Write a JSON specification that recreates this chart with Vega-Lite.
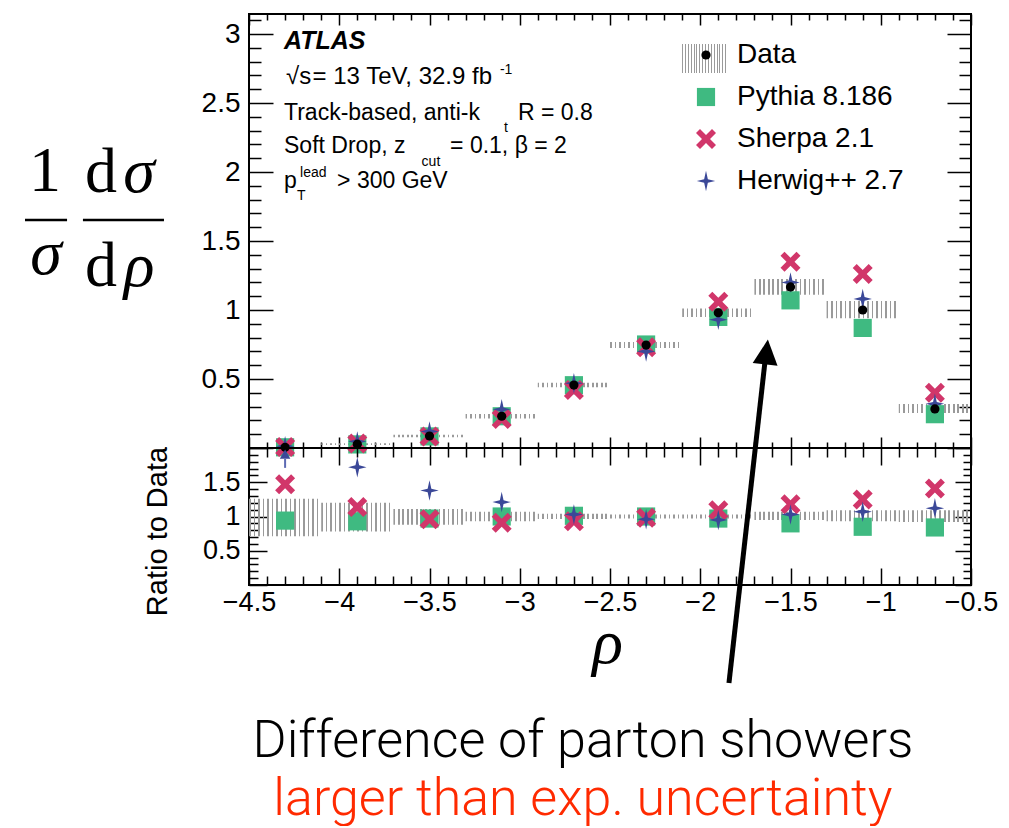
{
  "$schema": "https://vega.github.io/schema/vega-lite/v6.json",
  "padding": {"left": 22, "top": 5, "right": 5, "bottom": 0},
  "background": "white",
  "spacing": 0,
  "bounds": "flush",
  "config": {
    "view": {"stroke": "black", "strokeWidth": 2},
    "axis": {"domain": false, "grid": false, "tickColor": "black", "tickWidth": 1.5, "labelFont": "Liberation Sans", "labelColor": "black", "titleColor": "black", "labelFontSize": 27, "labelOverlap": false, "labelBound": false, "labelFlush": false},
    "text": {"font": "Liberation Sans", "color": "black"},
    "rect": {"fill": {"gradient": "linear", "x1": 0, "y1": 0, "x2": 1, "y2": 0, "stops": [
      {"offset": 0, "color": "#9a9a9a"}, {"offset": 0.022, "color": "#9a9a9a"}, {"offset": 0.022, "color": "rgba(255,255,255,0)"}, {"offset": 0.0625, "color": "rgba(255,255,255,0)"},
      {"offset": 0.0625, "color": "#9a9a9a"}, {"offset": 0.0845, "color": "#9a9a9a"}, {"offset": 0.0845, "color": "rgba(255,255,255,0)"}, {"offset": 0.125, "color": "rgba(255,255,255,0)"},
      {"offset": 0.125, "color": "#9a9a9a"}, {"offset": 0.147, "color": "#9a9a9a"}, {"offset": 0.147, "color": "rgba(255,255,255,0)"}, {"offset": 0.1875, "color": "rgba(255,255,255,0)"},
      {"offset": 0.1875, "color": "#9a9a9a"}, {"offset": 0.2095, "color": "#9a9a9a"}, {"offset": 0.2095, "color": "rgba(255,255,255,0)"}, {"offset": 0.25, "color": "rgba(255,255,255,0)"},
      {"offset": 0.25, "color": "#9a9a9a"}, {"offset": 0.272, "color": "#9a9a9a"}, {"offset": 0.272, "color": "rgba(255,255,255,0)"}, {"offset": 0.3125, "color": "rgba(255,255,255,0)"},
      {"offset": 0.3125, "color": "#9a9a9a"}, {"offset": 0.3345, "color": "#9a9a9a"}, {"offset": 0.3345, "color": "rgba(255,255,255,0)"}, {"offset": 0.375, "color": "rgba(255,255,255,0)"},
      {"offset": 0.375, "color": "#9a9a9a"}, {"offset": 0.397, "color": "#9a9a9a"}, {"offset": 0.397, "color": "rgba(255,255,255,0)"}, {"offset": 0.4375, "color": "rgba(255,255,255,0)"},
      {"offset": 0.4375, "color": "#9a9a9a"}, {"offset": 0.4595, "color": "#9a9a9a"}, {"offset": 0.4595, "color": "rgba(255,255,255,0)"}, {"offset": 0.5, "color": "rgba(255,255,255,0)"},
      {"offset": 0.5, "color": "#9a9a9a"}, {"offset": 0.522, "color": "#9a9a9a"}, {"offset": 0.522, "color": "rgba(255,255,255,0)"}, {"offset": 0.5625, "color": "rgba(255,255,255,0)"},
      {"offset": 0.5625, "color": "#9a9a9a"}, {"offset": 0.5845, "color": "#9a9a9a"}, {"offset": 0.5845, "color": "rgba(255,255,255,0)"}, {"offset": 0.625, "color": "rgba(255,255,255,0)"},
      {"offset": 0.625, "color": "#9a9a9a"}, {"offset": 0.647, "color": "#9a9a9a"}, {"offset": 0.647, "color": "rgba(255,255,255,0)"}, {"offset": 0.6875, "color": "rgba(255,255,255,0)"},
      {"offset": 0.6875, "color": "#9a9a9a"}, {"offset": 0.7095, "color": "#9a9a9a"}, {"offset": 0.7095, "color": "rgba(255,255,255,0)"}, {"offset": 0.75, "color": "rgba(255,255,255,0)"},
      {"offset": 0.75, "color": "#9a9a9a"}, {"offset": 0.772, "color": "#9a9a9a"}, {"offset": 0.772, "color": "rgba(255,255,255,0)"}, {"offset": 0.8125, "color": "rgba(255,255,255,0)"},
      {"offset": 0.8125, "color": "#9a9a9a"}, {"offset": 0.8345, "color": "#9a9a9a"}, {"offset": 0.8345, "color": "rgba(255,255,255,0)"}, {"offset": 0.875, "color": "rgba(255,255,255,0)"},
      {"offset": 0.875, "color": "#9a9a9a"}, {"offset": 0.897, "color": "#9a9a9a"}, {"offset": 0.897, "color": "rgba(255,255,255,0)"}, {"offset": 0.9375, "color": "rgba(255,255,255,0)"},
      {"offset": 0.9375, "color": "#9a9a9a"}, {"offset": 0.9595, "color": "#9a9a9a"}, {"offset": 0.9595, "color": "rgba(255,255,255,0)"}, {"offset": 1, "color": "rgba(255,255,255,0)"}
    ]}}
  },
  "datasets": {
    "pts": [
      {"rho": -4.3, "model": "Pythia 8.186", "xs": 0.005, "ratio": 0.94},
      {"rho": -3.9, "model": "Pythia 8.186", "xs": 0.026, "ratio": 0.93},
      {"rho": -3.5, "model": "Pythia 8.186", "xs": 0.084, "ratio": 0.97},
      {"rho": -3.1, "model": "Pythia 8.186", "xs": 0.23, "ratio": 1.0},
      {"rho": -2.7, "model": "Pythia 8.186", "xs": 0.455, "ratio": 1.01},
      {"rho": -2.3, "model": "Pythia 8.186", "xs": 0.75, "ratio": 1.0},
      {"rho": -1.9, "model": "Pythia 8.186", "xs": 0.95, "ratio": 0.97},
      {"rho": -1.5, "model": "Pythia 8.186", "xs": 1.07, "ratio": 0.9},
      {"rho": -1.1, "model": "Pythia 8.186", "xs": 0.87, "ratio": 0.85},
      {"rho": -0.7, "model": "Pythia 8.186", "xs": 0.245, "ratio": 0.84},
      {"rho": -4.3, "model": "Sherpa 2.1", "xs": 0.008, "ratio": 1.47},
      {"rho": -3.9, "model": "Sherpa 2.1", "xs": 0.032, "ratio": 1.14},
      {"rho": -3.5, "model": "Sherpa 2.1", "xs": 0.084, "ratio": 0.96},
      {"rho": -3.1, "model": "Sherpa 2.1", "xs": 0.21, "ratio": 0.91},
      {"rho": -2.7, "model": "Sherpa 2.1", "xs": 0.42, "ratio": 0.93},
      {"rho": -2.3, "model": "Sherpa 2.1", "xs": 0.73, "ratio": 0.98},
      {"rho": -1.9, "model": "Sherpa 2.1", "xs": 1.06, "ratio": 1.09},
      {"rho": -1.5, "model": "Sherpa 2.1", "xs": 1.35, "ratio": 1.18},
      {"rho": -1.1, "model": "Sherpa 2.1", "xs": 1.26, "ratio": 1.25},
      {"rho": -0.7, "model": "Sherpa 2.1", "xs": 0.4, "ratio": 1.41},
      {"rho": -4.3, "model": "Herwig++ 2.7", "xs": 0.013, "ratio": 2.6},
      {"rho": -3.9, "model": "Herwig++ 2.7", "xs": 0.048, "ratio": 1.72},
      {"rho": -3.5, "model": "Herwig++ 2.7", "xs": 0.12, "ratio": 1.38},
      {"rho": -3.1, "model": "Herwig++ 2.7", "xs": 0.28, "ratio": 1.21},
      {"rho": -2.7, "model": "Herwig++ 2.7", "xs": 0.47, "ratio": 1.03},
      {"rho": -2.3, "model": "Herwig++ 2.7", "xs": 0.7, "ratio": 0.96},
      {"rho": -1.9, "model": "Herwig++ 2.7", "xs": 0.93, "ratio": 0.95},
      {"rho": -1.5, "model": "Herwig++ 2.7", "xs": 1.2, "ratio": 1.03},
      {"rho": -1.1, "model": "Herwig++ 2.7", "xs": 1.08, "ratio": 1.07},
      {"rho": -0.7, "model": "Herwig++ 2.7", "xs": 0.32, "ratio": 1.12},
      {"rho": -4.3, "model": "Data", "xs": 0.005},
      {"rho": -3.9, "model": "Data", "xs": 0.028},
      {"rho": -3.5, "model": "Data", "xs": 0.087},
      {"rho": -3.1, "model": "Data", "xs": 0.23},
      {"rho": -2.7, "model": "Data", "xs": 0.456},
      {"rho": -2.3, "model": "Data", "xs": 0.746},
      {"rho": -1.9, "model": "Data", "xs": 0.98},
      {"rho": -1.5, "model": "Data", "xs": 1.167},
      {"rho": -1.1, "model": "Data", "xs": 1.0},
      {"rho": -0.7, "model": "Data", "xs": 0.283}
    ],
    "bins": [
      {"x0": -4.5, "x1": -4.1, "lo": 0.004, "hi": 0.007, "rlo": 0.71, "rhi": 1.26},
      {"x0": -4.1, "x1": -3.7, "lo": 0.022, "hi": 0.034, "rlo": 0.78, "rhi": 1.2},
      {"x0": -3.7, "x1": -3.3, "lo": 0.077, "hi": 0.096, "rlo": 0.88, "rhi": 1.11},
      {"x0": -3.3, "x1": -2.9, "lo": 0.214, "hi": 0.246, "rlo": 0.93, "rhi": 1.07},
      {"x0": -2.9, "x1": -2.5, "lo": 0.44, "hi": 0.472, "rlo": 0.965, "rhi": 1.04},
      {"x0": -2.5, "x1": -2.1, "lo": 0.724, "hi": 0.768, "rlo": 0.97, "rhi": 1.03},
      {"x0": -2.1, "x1": -1.7, "lo": 0.95, "hi": 1.01, "rlo": 0.97, "rhi": 1.03},
      {"x0": -1.7, "x1": -1.3, "lo": 1.11, "hi": 1.225, "rlo": 0.95, "rhi": 1.07},
      {"x0": -1.3, "x1": -0.9, "lo": 0.94, "hi": 1.065, "rlo": 0.93, "rhi": 1.09},
      {"x0": -0.9, "x1": -0.5, "lo": 0.254, "hi": 0.319, "rlo": 0.92, "rhi": 1.09}
    ]
  },
  "resolve": {"scale": {"color": "independent", "shape": "independent", "size": "independent"}, "legend": {"color": "independent", "shape": "independent", "size": "independent"}},
  "vconcat": [
    {
      "width": 722,
      "height": 434,
      "resolve": {"axis": {"x": "independent", "y": "independent"}},
      "layer": [
        {
          "data": {"name": "bins"},
          "mark": {"type": "rect"},
          "encoding": {
            "x": {"field": "x0", "type": "quantitative", "scale": {"domain": [-4.5, -0.5], "nice": false, "zero": false},
              "axis": {"orient": "top", "labels": false, "title": null, "values": [-4.5,-4.4,-4.3,-4.2,-4.1,-4,-3.9,-3.8,-3.7,-3.6,-3.5,-3.4,-3.3,-3.2,-3.1,-3,-2.9,-2.8,-2.7,-2.6,-2.5,-2.4,-2.3,-2.2,-2.1,-2,-1.9,-1.8,-1.7,-1.6,-1.5,-1.4,-1.3,-1.2,-1.1,-1,-0.9,-0.8,-0.7,-0.6,-0.5],
                "tickSize": {"condition": {"test": "abs(datum.value*2-round(datum.value*2))<0.01", "value": -11}, "value": -6}}},
            "x2": {"field": "x1"},
            "y": {"field": "lo", "type": "quantitative", "scale": {"domain": [0, 3.145], "nice": false, "zero": false},
              "axis": {"orient": "right", "labels": false, "title": null, "values": [0,0.1,0.2,0.3,0.4,0.5,0.6,0.7,0.8,0.9,1,1.1,1.2,1.3,1.4,1.5,1.6,1.7,1.8,1.9,2,2.1,2.2,2.3,2.4,2.5,2.6,2.7,2.8,2.9,3,3.1],
                "tickSize": {"condition": {"test": "abs(datum.value*2-round(datum.value*2))<0.01", "value": -24}, "value": -12}}},
            "y2": {"field": "hi"}
          }
        },
        {
          "data": {"values": [{}]},
          "mark": {"type": "rect"},
          "encoding": {
            "x": {"datum": -2.101, "axis": null},
            "x2": {"datum": -1.846},
            "y": {"datum": 2.717, "axis": null},
            "y2": {"datum": 2.928}
          }
        },
        {
          "data": {"name": "pts"},
          "mark": {"type": "point", "filled": true, "opacity": 1, "strokeWidth": 0},
          "encoding": {
            "x": {"field": "rho", "type": "quantitative",
              "axis": {"orient": "bottom", "labels": false, "title": null, "values": [-4.5,-4.4,-4.3,-4.2,-4.1,-4,-3.9,-3.8,-3.7,-3.6,-3.5,-3.4,-3.3,-3.2,-3.1,-3,-2.9,-2.8,-2.7,-2.6,-2.5,-2.4,-2.3,-2.2,-2.1,-2,-1.9,-1.8,-1.7,-1.6,-1.5,-1.4,-1.3,-1.2,-1.1,-1,-0.9,-0.8,-0.7,-0.6,-0.5],
                "tickSize": {"condition": {"test": "abs(datum.value*2-round(datum.value*2))<0.01", "value": -11}, "value": -6}}},
            "y": {"field": "xs", "type": "quantitative",
              "axis": {"orient": "left", "title": null, "values": [0,0.1,0.2,0.3,0.4,0.5,0.6,0.7,0.8,0.9,1,1.1,1.2,1.3,1.4,1.5,1.6,1.7,1.8,1.9,2,2.1,2.2,2.3,2.4,2.5,2.6,2.7,2.8,2.9,3,3.1],
                "tickSize": {"condition": {"test": "abs(datum.value*2-round(datum.value*2))<0.01", "value": -24}, "value": -12},
                "labelExpr": "abs(datum.value*2-round(datum.value*2))<0.01 && datum.value>0.01 ? format(datum.value,'~g') : ''",
                "labelPadding": 33, "labelFontSize": 28}},
            "color": {"field": "model", "type": "nominal",
              "scale": {"domain": ["Data", "Pythia 8.186", "Sherpa 2.1", "Herwig++ 2.7"], "range": ["#000000", "#3fba81", "#d1366a", "#3b4898"]},
              "legend": {"orient": "none", "legendX": 443, "legendY": 27, "title": null, "padding": 0, "labelFont": "Liberation Sans", "labelFontSize": 28, "labelColor": "black", "labelLimit": 0, "rowPadding": 14, "labelOffset": 17, "symbolStrokeWidth": 0, "symbolOpacity": 1}},
            "shape": {"field": "model", "type": "nominal",
              "scale": {"domain": ["Data", "Pythia 8.186", "Sherpa 2.1", "Herwig++ 2.7"], "range": ["circle", "square", "M-1,-0.6L-0.6,-1L0,-0.4L0.6,-1L1,-0.6L0.4,0L1,0.6L0.6,1L0,0.4L-0.6,1L-1,0.6L-0.4,0Z", "M0,-1L0.18,-0.18L0.9,0L0.18,0.18L0,1L-0.18,0.18L-0.9,0L-0.18,-0.18Z"]},
              "legend": {"orient": "none", "legendX": 443, "legendY": 27, "title": null, "padding": 0, "labelFont": "Liberation Sans", "labelFontSize": 28, "labelColor": "black", "labelLimit": 0, "rowPadding": 14, "labelOffset": 17, "symbolStrokeWidth": 0, "symbolOpacity": 1}},
            "size": {"field": "model", "type": "nominal",
              "scale": {"type": "ordinal", "domain": ["Data", "Pythia 8.186", "Sherpa 2.1", "Herwig++ 2.7"], "range": [85, 330, 400, 420]},
              "legend": {"orient": "none", "legendX": 443, "legendY": 27, "title": null, "padding": 0, "labelFont": "Liberation Sans", "labelFontSize": 28, "labelColor": "black", "labelLimit": 0, "rowPadding": 14, "labelOffset": 17, "symbolStrokeWidth": 0, "symbolOpacity": 1}}
          }
        },
        {"data": {"values": [{}]}, "mark": {"type": "text", "text": "1", "font": "Liberation Serif", "fontSize": 64, "align": "center", "baseline": "alphabetic"},
         "encoding": {"x": {"datum": -5.63, "axis": null}, "y": {"datum": 1.862, "axis": null}}},
        {"data": {"values": [{}]}, "mark": {"type": "text", "text": "σ", "font": "Liberation Serif", "fontStyle": "italic", "fontSize": 64, "align": "center", "baseline": "alphabetic"},
         "encoding": {"x": {"datum": -5.625, "axis": null}, "y": {"datum": 1.261, "axis": null}}},
        {"data": {"values": [{}]}, "mark": {"type": "text", "text": "d", "font": "Liberation Serif", "fontSize": 64, "align": "center", "baseline": "alphabetic"},
         "encoding": {"x": {"datum": -5.32, "axis": null}, "y": {"datum": 1.855, "axis": null}}},
        {"data": {"values": [{}]}, "mark": {"type": "text", "text": "σ", "font": "Liberation Serif", "fontStyle": "italic", "fontSize": 64, "align": "center", "baseline": "alphabetic"},
         "encoding": {"x": {"datum": -5.109, "axis": null}, "y": {"datum": 1.855, "axis": null}}},
        {"data": {"values": [{}]}, "mark": {"type": "text", "text": "d", "font": "Liberation Serif", "fontSize": 64, "align": "center", "baseline": "alphabetic"},
         "encoding": {"x": {"datum": -5.32, "axis": null}, "y": {"datum": 1.174, "axis": null}}},
        {"data": {"values": [{}]}, "mark": {"type": "text", "text": "ρ", "font": "Liberation Serif", "fontStyle": "italic", "fontSize": 64, "align": "center", "baseline": "alphabetic"},
         "encoding": {"x": {"datum": -5.109, "axis": null}, "y": {"datum": 1.174, "axis": null}}},
        {"data": {"values": [{}]}, "mark": {"type": "rule", "color": "black", "strokeWidth": 2.5},
         "encoding": {"x": {"datum": -5.741, "axis": null}, "x2": {"datum": -5.508}, "y": {"datum": 1.652, "axis": null}}},
        {"data": {"values": [{}]}, "mark": {"type": "rule", "color": "black", "strokeWidth": 2.5},
         "encoding": {"x": {"datum": -5.42, "axis": null}, "x2": {"datum": -4.971}, "y": {"datum": 1.652, "axis": null}}},
        {"data": {"values": [{}]}, "mark": {"type": "text", "text": "ATLAS", "fontSize": 25, "fontStyle": "italic", "fontWeight": "bold", "align": "left", "baseline": "middle"},
         "encoding": {"x": {"datum": -4.306, "axis": null}, "y": {"datum": 2.949, "axis": null}}},
        {"data": {"values": [{}]}, "mark": {"type": "text", "text": "√s", "fontSize": 24, "align": "left", "baseline": "middle"},
         "encoding": {"x": {"datum": -4.295, "axis": null}, "y": {"datum": 2.688, "axis": null}}},
        {"data": {"values": [{}]}, "mark": {"type": "text", "text": "= 13 TeV, 32.9 fb", "fontSize": 24, "align": "left", "baseline": "middle"},
         "encoding": {"x": {"datum": -4.148, "axis": null}, "y": {"datum": 2.688, "axis": null}}},
        {"data": {"values": [{}]}, "mark": {"type": "text", "text": "-1", "fontSize": 14, "align": "left", "baseline": "middle"},
         "encoding": {"x": {"datum": -3.11, "axis": null}, "y": {"datum": 2.74, "axis": null}}},
        {"data": {"values": [{}]}, "mark": {"type": "text", "text": "Track-based, anti-k", "fontSize": 23, "align": "left", "baseline": "middle"},
         "encoding": {"x": {"datum": -4.306, "axis": null}, "y": {"datum": 2.428, "axis": null}}},
        {"data": {"values": [{}]}, "mark": {"type": "text", "text": "t", "fontSize": 14, "align": "center", "baseline": "middle"},
         "encoding": {"x": {"datum": -3.076, "axis": null}, "y": {"datum": 2.319, "axis": null}}},
        {"data": {"values": [{}]}, "mark": {"type": "text", "text": "R = 0.8", "fontSize": 23, "align": "left", "baseline": "middle"},
         "encoding": {"x": {"datum": -3.01, "axis": null}, "y": {"datum": 2.428, "axis": null}}},
        {"data": {"values": [{}]}, "mark": {"type": "text", "text": "Soft Drop, z", "fontSize": 23, "align": "left", "baseline": "middle"},
         "encoding": {"x": {"datum": -4.306, "axis": null}, "y": {"datum": 2.188, "axis": null}}},
        {"data": {"values": [{}]}, "mark": {"type": "text", "text": "cut", "fontSize": 14, "align": "center", "baseline": "middle"},
         "encoding": {"x": {"datum": -3.492, "axis": null}, "y": {"datum": 2.072, "axis": null}}},
        {"data": {"values": [{}]}, "mark": {"type": "text", "text": "= 0.1, β = 2", "fontSize": 23, "align": "left", "baseline": "middle"},
         "encoding": {"x": {"datum": -3.386, "axis": null}, "y": {"datum": 2.188, "axis": null}}},
        {"data": {"values": [{}]}, "mark": {"type": "text", "text": "p", "fontSize": 23, "align": "left", "baseline": "middle"},
         "encoding": {"x": {"datum": -4.306, "axis": null}, "y": {"datum": 1.935, "axis": null}}},
        {"data": {"values": [{}]}, "mark": {"type": "text", "text": "lead", "fontSize": 14, "align": "left", "baseline": "middle"},
         "encoding": {"x": {"datum": -4.217, "axis": null}, "y": {"datum": 1.993, "axis": null}}},
        {"data": {"values": [{}]}, "mark": {"type": "text", "text": "T", "fontSize": 14, "align": "left", "baseline": "middle"},
         "encoding": {"x": {"datum": -4.234, "axis": null}, "y": {"datum": 1.826, "axis": null}}},
        {"data": {"values": [{}]}, "mark": {"type": "text", "text": "> 300 GeV", "fontSize": 23, "align": "left", "baseline": "middle"},
         "encoding": {"x": {"datum": -4.012, "axis": null}, "y": {"datum": 1.935, "axis": null}}}
      ]
    },
    {
      "width": 722,
      "height": 137,
      "resolve": {"axis": {"x": "independent", "y": "independent"}},
      "layer": [
        {
          "data": {"name": "bins"},
          "mark": {"type": "rect"},
          "encoding": {
            "x": {"field": "x0", "type": "quantitative", "scale": {"domain": [-4.5, -0.5], "nice": false, "zero": false},
              "axis": {"orient": "top", "labels": false, "title": null, "values": [-4.5,-4.4,-4.3,-4.2,-4.1,-4,-3.9,-3.8,-3.7,-3.6,-3.5,-3.4,-3.3,-3.2,-3.1,-3,-2.9,-2.8,-2.7,-2.6,-2.5,-2.4,-2.3,-2.2,-2.1,-2,-1.9,-1.8,-1.7,-1.6,-1.5,-1.4,-1.3,-1.2,-1.1,-1,-0.9,-0.8,-0.7,-0.6,-0.5],
                "tickSize": {"condition": {"test": "abs(datum.value*2-round(datum.value*2))<0.01", "value": -17}, "value": -9}}},
            "x2": {"field": "x1"},
            "y": {"field": "rlo", "type": "quantitative", "scale": {"domain": [0, 2], "nice": false, "zero": false},
              "axis": {"orient": "right", "labels": false, "title": null, "values": [0,0.1,0.2,0.3,0.4,0.5,0.6,0.7,0.8,0.9,1,1.1,1.2,1.3,1.4,1.5,1.6,1.7,1.8,1.9,2],
                "tickSize": {"condition": {"test": "abs(datum.value*2-round(datum.value*2))<0.01", "value": -16}, "value": -8}}},
            "y2": {"field": "rhi"}
          }
        },
        {
          "data": {"name": "pts"},
          "transform": [{"filter": "datum.model != 'Data' && datum.ratio <= 2"}],
          "mark": {"type": "point", "filled": true, "opacity": 1, "strokeWidth": 0},
          "encoding": {
            "x": {"field": "rho", "type": "quantitative",
              "axis": {"orient": "bottom", "title": "ρ", "values": [-4.5,-4.4,-4.3,-4.2,-4.1,-4,-3.9,-3.8,-3.7,-3.6,-3.5,-3.4,-3.3,-3.2,-3.1,-3,-2.9,-2.8,-2.7,-2.6,-2.5,-2.4,-2.3,-2.2,-2.1,-2,-1.9,-1.8,-1.7,-1.6,-1.5,-1.4,-1.3,-1.2,-1.1,-1,-0.9,-0.8,-0.7,-0.6,-0.5],
                "tickSize": {"condition": {"test": "abs(datum.value*2-round(datum.value*2))<0.01", "value": -17}, "value": -9},
                "labelExpr": "abs(datum.value*2-round(datum.value*2))<0.01 ? format(datum.value,'~g') : ''",
                "labelPadding": 21, "labelFontSize": 27,
                "titleFont": "Liberation Serif", "titleFontStyle": "italic", "titleFontWeight": "normal", "titleFontSize": 64,
                "titleX": 358, "titleY": 77, "titleBaseline": "alphabetic", "titleAlign": "center"}},
            "y": {"field": "ratio", "type": "quantitative",
              "axis": {"orient": "left", "title": "Ratio to Data", "values": [0,0.1,0.2,0.3,0.4,0.5,0.6,0.7,0.8,0.9,1,1.1,1.2,1.3,1.4,1.5,1.6,1.7,1.8,1.9,2],
                "tickSize": {"condition": {"test": "abs(datum.value*2-round(datum.value*2))<0.01", "value": -18}, "value": -9},
                "labelExpr": "abs(datum.value*2-round(datum.value*2))<0.01 && datum.value>0.01 && datum.value<1.99 ? format(datum.value,'~g') : ''",
                "labelPadding": 27, "labelFontSize": 27,
                "titleFont": "Liberation Sans", "titleFontSize": 29, "titleFontWeight": "normal",
                "titleX": -83, "titleY": 83, "titleBaseline": "alphabetic", "titleAlign": "center", "titleAngle": 270}},
            "color": {"field": "model", "type": "nominal", "legend": null,
              "scale": {"domain": ["Data", "Pythia 8.186", "Sherpa 2.1", "Herwig++ 2.7"], "range": ["#000000", "#3fba81", "#d1366a", "#3b4898"]}},
            "shape": {"field": "model", "type": "nominal", "legend": null,
              "scale": {"domain": ["Data", "Pythia 8.186", "Sherpa 2.1", "Herwig++ 2.7"], "range": ["circle", "square", "M-1,-0.6L-0.6,-1L0,-0.4L0.6,-1L1,-0.6L0.4,0L1,0.6L0.6,1L0,0.4L-0.6,1L-1,0.6L-0.4,0Z", "M0,-1L0.18,-0.18L0.9,0L0.18,0.18L0,1L-0.18,0.18L-0.9,0L-0.18,-0.18Z"]}},
            "size": {"field": "model", "type": "nominal", "legend": null,
              "scale": {"type": "ordinal", "domain": ["Data", "Pythia 8.186", "Sherpa 2.1", "Herwig++ 2.7"], "range": [85, 330, 400, 420]}}
          }
        },
        {
          "data": {"name": "pts"},
          "transform": [{"filter": "datum.model == 'Herwig++ 2.7' && datum.ratio > 2"}],
          "mark": {"type": "rule", "color": "#5d6ab3", "strokeWidth": 2},
          "encoding": {"x": {"field": "rho", "type": "quantitative", "axis": null}, "y": {"datum": 1.71, "axis": null}, "y2": {"datum": 1.84}}
        },
        {
          "data": {"name": "pts"},
          "transform": [{"filter": "datum.model == 'Herwig++ 2.7' && datum.ratio > 2"}],
          "mark": {"type": "point", "shape": "triangle-up", "filled": true, "opacity": 1, "color": "#3b4898", "size": 110, "strokeWidth": 0},
          "encoding": {"x": {"field": "rho", "type": "quantitative", "axis": null}, "y": {"datum": 1.91, "axis": null}}
        },
        {
          "data": {"values": [{}]},
          "mark": {"type": "rule", "color": "black", "strokeWidth": 5},
          "encoding": {"x": {"datum": -1.841, "axis": null}, "x2": {"datum": -1.641}, "y": {"datum": -1.431, "axis": null}, "y2": {"datum": 3.27}}
        },
        {
          "data": {"values": [{}]},
          "mark": {"type": "point", "shape": "M0,-1L1,1L-1,1Z", "filled": true, "opacity": 1, "color": "black", "size": 625, "angle": 6.3, "strokeWidth": 0},
          "encoding": {"x": {"datum": -1.633, "axis": null}, "y": {"datum": 3.401, "axis": null}}
        },
        {
          "data": {"values": [{}]},
          "mark": {"type": "text", "text": "Difference of parton showers", "font": "Roboto", "fontWeight": 300, "fontSize": 52, "align": "center", "baseline": "middle", "color": "black"},
          "encoding": {"x": {"datum": -2.65, "axis": null}, "y": {"datum": -2.277, "axis": null}}
        },
        {
          "data": {"values": [{}]},
          "mark": {"type": "text", "text": "larger than exp. uncertainty", "font": "Roboto", "fontWeight": 300, "fontSize": 52, "align": "center", "baseline": "middle", "color": "#ff2a00"},
          "encoding": {"x": {"datum": -2.65, "axis": null}, "y": {"datum": -3.12, "axis": null}}
        }
      ]
    }
  ]
}
